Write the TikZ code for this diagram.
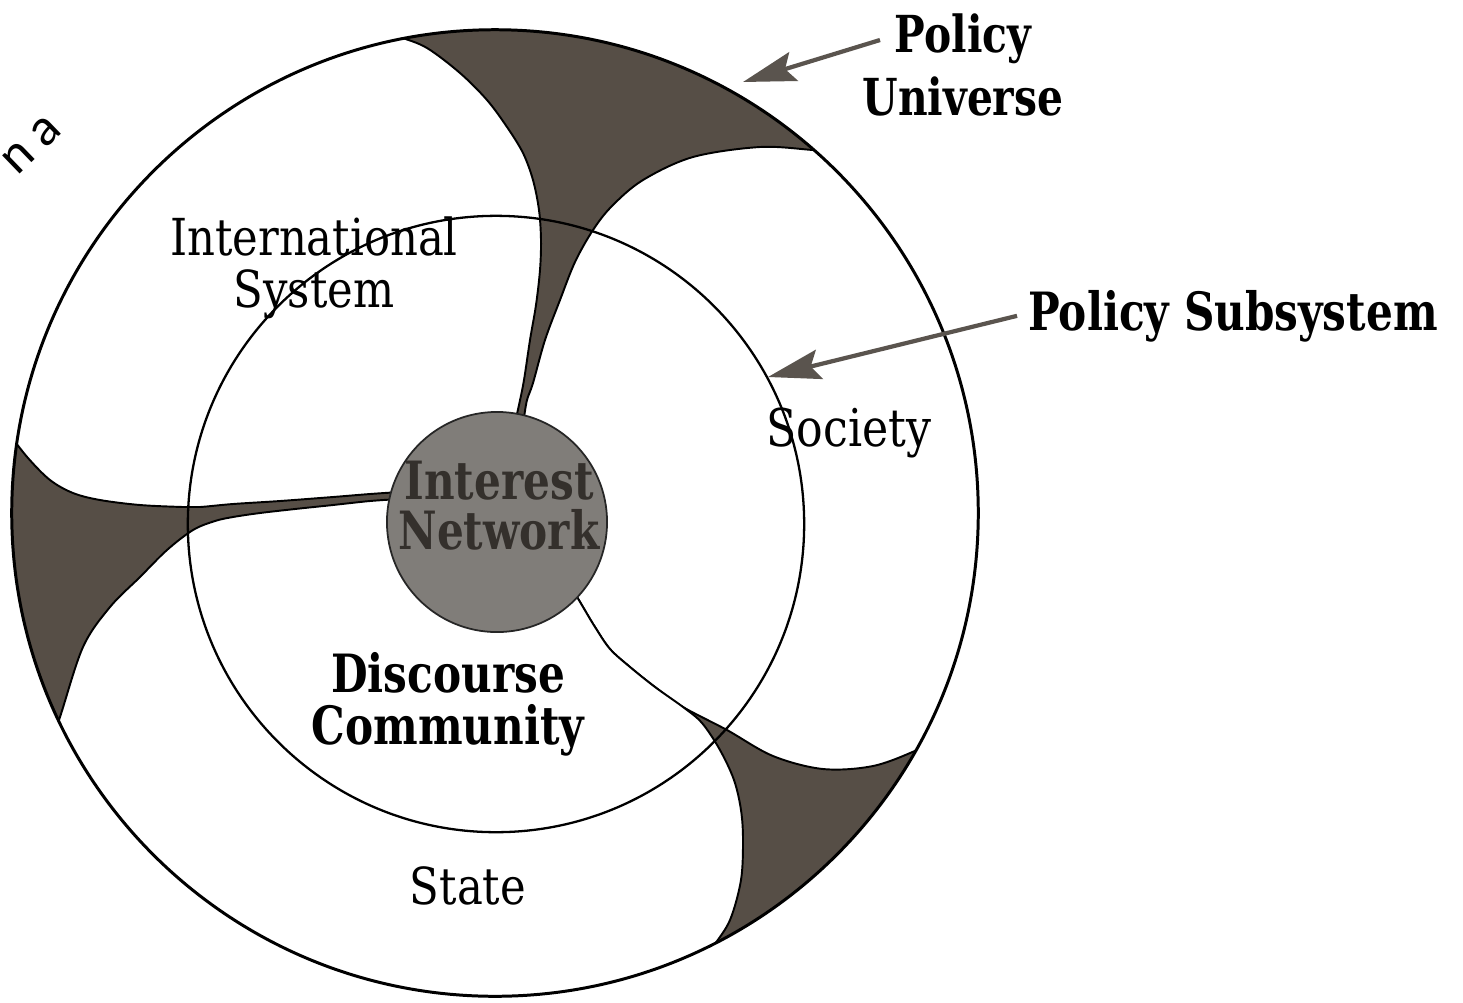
\documentclass[tikz,border=0pt]{standalone}
\usepackage{fontspec}
\usetikzlibrary{arrows.meta}
\newfontfamily\labreg{DejaVu Serif}[FakeStretch=0.85]
\newfontfamily\labbf{DejaVu Serif}[FakeStretch=0.8]
\newfontfamily\annot{Carlito}
\definecolor{darkfill}{RGB}{86,78,70}
\definecolor{netfill}{RGB}{128,125,121}
\definecolor{nettext}{RGB}{52,48,44}
\definecolor{arrowc}{RGB}{90,84,78}
\tikzset{
  lobe/.style={fill=white, draw=black, line width=0.55pt, line join=round},
  boldlbl/.style={font=\labbf\bfseries\fontsize{14.5}{14.8}\selectfont, align=center, inner sep=0pt},
  reglbl/.style={font=\labreg\fontsize{14.5}{14.8}\selectfont, align=center, inner sep=0pt},
  callout/.style={draw=arrowc, line width=1.2pt, -{Stealth[length=15pt,width=8.5pt,inset=2.5pt,fill=arrowc]}},
  ring/.style={draw=black, line width=0.65pt},
  outerring/.style={draw=black, line width=0.85pt}
}
\begin{document}
\begin{tikzpicture}[x=0.01cm, y=-0.01cm]
\useasboundingbox (0,0) rectangle (1463,1002);
\fill[white] (0,0) rectangle (1463,1002);

\begin{scope}
\clip (495,513) circle[radius=4.83cm];
\fill[darkfill] (495,513) circle[radius=4.83cm];
% International System lobe
\filldraw[lobe] plot[smooth,tension=0.55] coordinates {(400,492) (370,494) (333,497) (280,501) (233,504) (200,507) (183,507) (140,505) (100,500) (73,493) (50,480) (28,458) (10,435)}
  -- (-60,435) -- (-60,-60) -- (370,-60)
  -- plot[smooth,tension=0.55] coordinates {(372,27) (400,37) (427,48) (460,73) (487,100) (507,127) (523,153) (533,180) (539,210) (541,240) (540,270) (536,305) (530,340) (524,380) (519,405) (516,418)}
  -- cycle;
% Society lobe
\filldraw[lobe] plot[smooth,tension=0.55] coordinates {(524,418) (527,400) (533,383) (545,340) (560,300) (575,262) (593,230) (612,206) (643,180) (693,157) (760,147) (813,150) (850,153)}
  -- (1060,100) -- (1060,760) -- (950,733)
  -- plot[smooth,tension=0.55] coordinates {(950,733) (917,750) (873,766) (823,769) (773,756) (727,730) (683,707) (655,687) (630,667) (610,649) (595,627) (583,607) (573,590)}
  -- cycle;
% State lobe
\filldraw[lobe] plot[smooth,tension=0.55] coordinates {(400,499) (370,501) (333,505) (295,509) (260,513) (233,517) (215,521) (193,530) (167,550) (140,577) (110,607) (83,647) (60,717) (45,760)}
  -- (-60,760) -- (-60,1100) -- (695,1100) -- (695,975)
  -- plot[smooth,tension=0.55] coordinates {(695,975) (713,947) (730,920) (741,880) (743,840) (741,810) (734,780) (720,750) (702,723) (683,707) (655,687) (630,667) (610,649) (595,627) (583,607) (573,590)}
  -- cycle;
\end{scope}

% policy subsystem ring and policy universe ring
\draw[ring] (496,524) circle[radius=3.08cm];
\draw[outerring] (495,513) circle[radius=4.83cm];

% interest network
\node[circle, minimum size=2.2cm, inner sep=0pt, fill=netfill, draw=black!85, line width=0.5pt] (net) at (497,522) {};
\node[boldlbl, text=nettext, font=\labbf\bfseries\fontsize{15}{14.2}\selectfont, anchor=north] (netlbl) at (499,460) {Interest\\Network};

% labels
\node[reglbl, anchor=north] (intsys) at (314,216) {International\\System};
\node[reglbl, font=\labreg\fontsize{14.8}{14.8}\selectfont, anchor=base] (soc) at (849,446) {Society};
\node[reglbl, anchor=base] (state) at (468,904) {State};
\node[boldlbl, font=\labbf\bfseries\fontsize{15}{14.6}\selectfont, anchor=north] (disc) at (448,652) {Discourse\\Community};
\node[boldlbl, font=\labbf\bfseries\fontsize{14.5}{18}\selectfont, anchor=north] (pu) at (963,13) {Policy\\Universe};
\node[boldlbl, font=\labbf\bfseries\fontsize{15}{15}\selectfont, anchor=base] (ps) at (1233,330) {Policy Subsystem};
\node[font=\annot\fontsize{15}{15}\selectfont, rotate=44, inner sep=0pt] (frag) at (32,145) {n a};

% callout arrows
\coordinate (puTail) at (880,40);
\coordinate (puTip) at (743,82);
\coordinate (psTip) at (768,377);
\draw[callout] (puTail) -- (puTip);
\draw[callout] ([xshift=-3pt]ps.west) -- (psTip);
\end{tikzpicture}
\end{document}
